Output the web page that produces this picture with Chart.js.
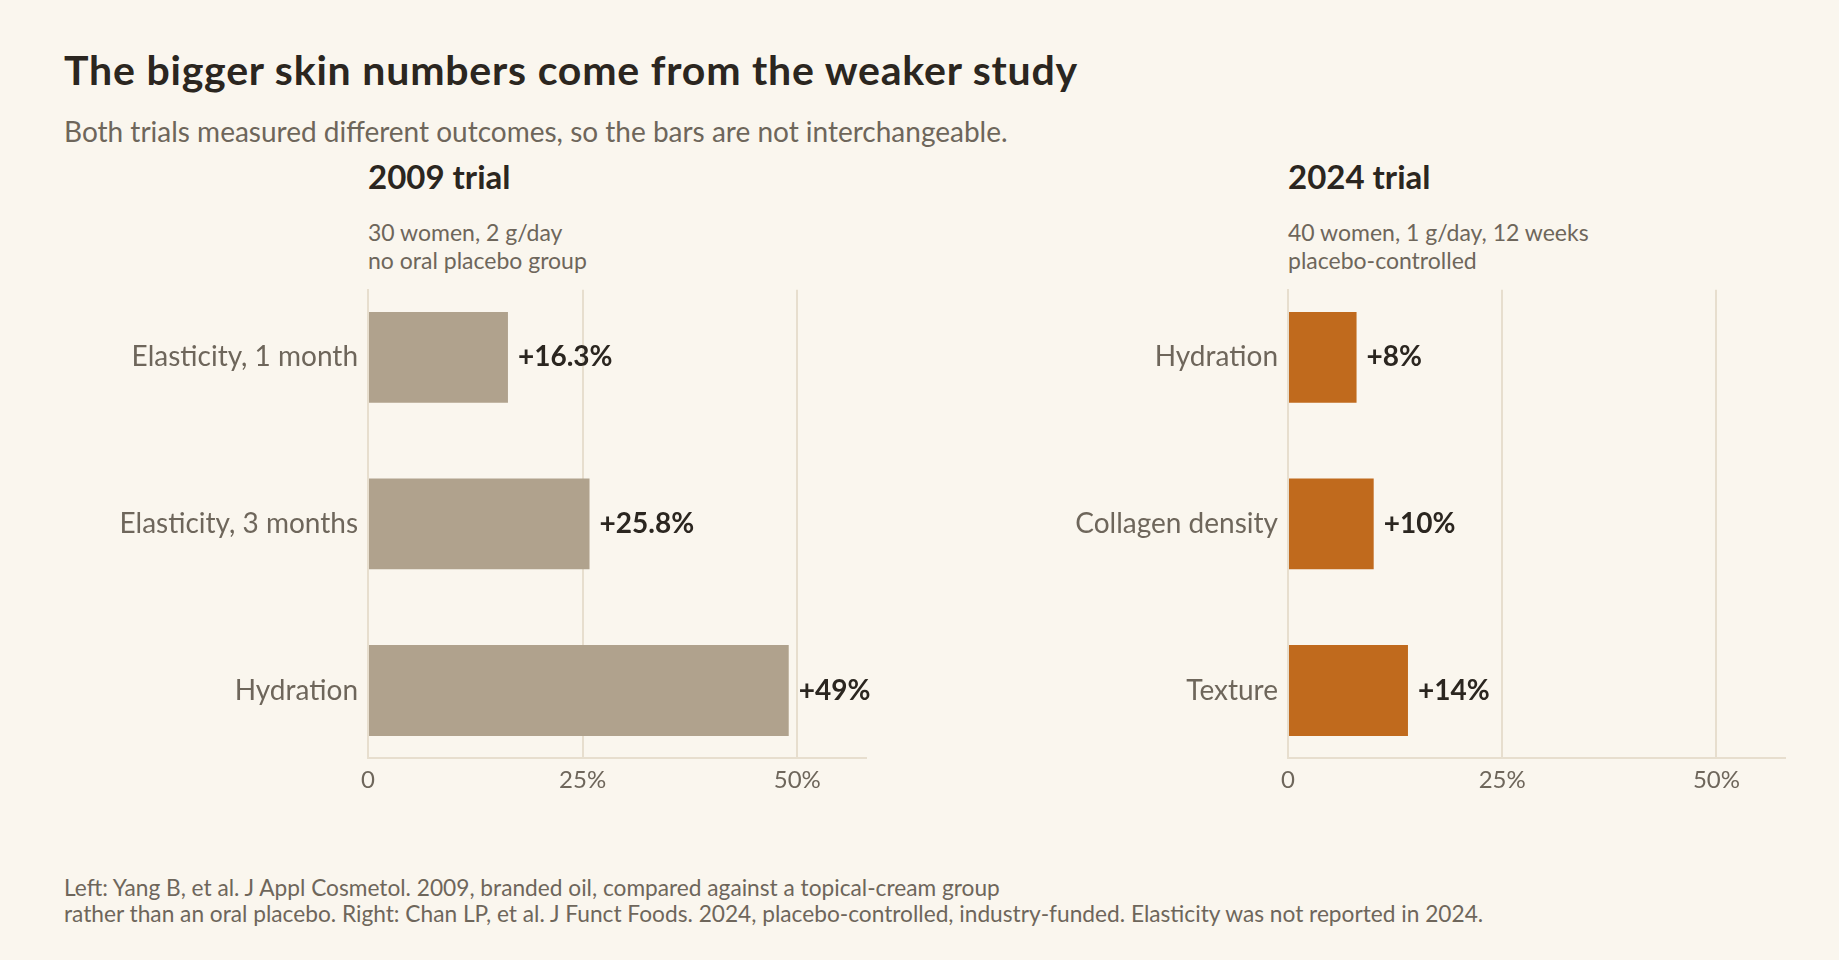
<!DOCTYPE html>
<html>
<head>
<meta charset="utf-8">
<script src="https://cdn.jsdelivr.net/npm/chart.js@4.4.1/dist/chart.umd.min.js"></script>
<style>
  html, body { margin:0; padding:0; background:#faf6ee; }
  body { width:1839px; height:960px; position:relative; overflow:hidden; font-family: Lato, "Noto Sans", sans-serif; }
  .t { position:absolute; white-space:nowrap; }
  #title { left:64px; top:46px; font-size:41px; line-height:48px; font-weight:700; color:#2b2620; letter-spacing:0.8px; }
  #sub { left:64px; top:115px; font-size:28px; line-height:32px; color:#6e665b; }
  .ptitle { top:157px; font-size:33px; line-height:38px; font-weight:700; color:#2b2620; }
  .pnote { top:218px; font-size:23px; line-height:28px; color:#6e665b; }
  #foot { left:64px; top:875px; font-size:22.7px; line-height:26px; color:#6e665b; }
  canvas { position:absolute; }
</style>
</head>
<body>
<div id="title" class="t">The bigger skin numbers come from the weaker study</div>
<div id="sub" class="t">Both trials measured different outcomes, so the bars are not interchangeable.</div>
<div class="t ptitle" style="left:368px">2009 trial</div>
<div class="t pnote" style="left:368px">30 women, 2 g/day<br>no oral placebo group</div>
<div class="t ptitle" style="left:1288px">2024 trial</div>
<div class="t pnote" style="left:1288px">40 women, 1 g/day, 12 weeks<br>placebo-controlled</div>
<div id="foot" class="t">Left: Yang B, et al. J Appl Cosmetol. 2009, branded oil, compared against a topical-cream group<br>rather than an oral placebo. Right: Chan LP, et al. J Funct Foods. 2024, placebo-controlled, industry-funded. Elasticity was not reported in 2024.</div>

<canvas id="c1" width="900" height="537" style="left:0px; top:263px;"></canvas>
<canvas id="c2" width="939" height="537" style="left:900px; top:263px;"></canvas>

<script>
const categories2009 = ['Elasticity, 1 month', 'Elasticity, 3 months', 'Hydration'];
const values2009 = [16.3, 25.8, 49];
const labels2009 = ['+16.3%', '+25.8%', '+49%'];

const categories2024 = ['Hydration', 'Collagen density', 'Texture'];
const values2024 = [8, 10, 14];
const labels2024 = ['+8%', '+10%', '+14%'];

const xTickValues = [0, 25, 50];
const xTickLabels = ['0', '25%', '50%'];
const xMax = 58;

const GRID = '#e7dece';
const GRAY = '#6e665b';
const DARK = '#2b2620';
const FONT = 'Lato, "Noto Sans", sans-serif';

const valueLabels = {
  id: 'valueLabels',
  afterDatasetsDraw(chart) {
    const ctx = chart.ctx;
    const meta = chart.getDatasetMeta(0);
    const labels = chart.options.plugins.valueLabels.labels;
    ctx.save();
    ctx.font = '700 28px ' + FONT;
    ctx.fillStyle = DARK;
    ctx.textBaseline = 'middle';
    ctx.textAlign = 'left';
    meta.data.forEach((bar, i) => {
      ctx.fillText(labels[i], bar.x + 10, bar.y);
    });
    ctx.restore();
  }
};

function makeChart(id, cats, vals, labels, color, yWidth, padRight) {
  return new Chart(document.getElementById(id), {
    type: 'bar',
    data: {
      datasets: [{
        data: vals.map((v, i) => ({ x: v, y: i })),
        backgroundColor: color,
        borderWidth: 0,
        barPercentage: 0.545,
        categoryPercentage: 1
      }]
    },
    plugins: [valueLabels],
    options: {
      indexAxis: 'y',
      responsive: false,
      animation: false,
      devicePixelRatio: 1,
      layout: { padding: { top: 7, right: padRight, left: 0, bottom: 0 } },
      plugins: {
        legend: { display: false },
        tooltip: { enabled: false },
        valueLabels: { labels: labels }
      },
      scales: {
        x: {
          type: 'linear',
          min: 0,
          max: xMax,
          afterBuildTicks: s => { s.ticks = xTickValues.map(v => ({ value: v })); },
          afterFit: s => { s.height = 42; },
          ticks: {
            padding: 8,
            color: GRAY,
            font: { family: FONT, size: 24 },
            callback: (v) => xTickLabels[xTickValues.indexOf(v)]
          },
          grid: { color: GRID, lineWidth: 2, drawTicks: false },
          border: { display: true, color: GRID, width: 2 }
        },
        y: {
          type: 'linear',
          reverse: true,
          offset: false,
          bounds: 'data',
          grace: 0,
          min: -0.405,
          max: 2.405,
          afterDataLimits: s => { s.min = -0.405; s.max = 2.405; },
          afterBuildTicks: s => { s.ticks = cats.map((c, i) => ({ value: i })); },
          afterFit: s => { s.width = yWidth; },
          ticks: {
            padding: 10,
            color: GRAY,
            font: { family: FONT, size: 28 },
            callback: (v) => cats[v]
          },
          grid: { display: false, drawTicks: false, offset: false },
          border: { display: true, color: GRID, width: 2 }
        }
      }
    }
  });
}

makeChart('c1', categories2009, values2009, labels2009, '#b0a28d', 368, 34);
makeChart('c2', categories2024, values2024, labels2024, '#c06a1d', 388, 54);
</script>
</body>
</html>
